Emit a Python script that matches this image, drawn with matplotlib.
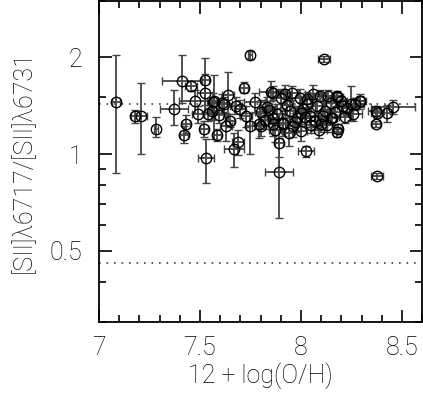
import numpy as np
import matplotlib
matplotlib.use("Agg")
import matplotlib.pyplot as plt
from matplotlib.ticker import FixedLocator, NullFormatter, MultipleLocator

# oxygen abundance, its error, [SII] ratio and ratio errors (lo, hi)
oh = [7.085, 7.18, 7.21, 7.28, 7.37, 7.41, 7.42, 7.43, 7.455, 7.475,
      7.49, 7.52, 7.525, 7.525, 7.53, 7.54, 7.56, 7.57, 7.585, 7.61,
      7.64, 7.65, 7.67, 7.69, 7.72, 7.75, 7.75, 7.79, 7.85, 7.86,
      7.89, 7.89, 7.91, 8.025, 8.114, 8.15, 8.18, 8.18, 8.25, 8.29,
      8.37, 8.376, 8.376, 8.426, 8.455,
      7.86, 7.90, 7.92, 7.955, 7.995, 8.03, 8.06, 8.095, 8.135, 8.18,
      8.20, 8.23, 8.27, 8.29, 8.37, 8.185, 8.155, 7.91, 7.86, 7.945,
      8.01, 8.08, 8.12, 8.045, 7.98,
      7.565, 7.62, 7.68, 7.77, 7.595, 7.70, 7.73, 7.80, 7.83, 7.82,
      7.80, 7.87, 7.96, 8.00, 8.05, 8.09, 8.13, 8.22, 8.26, 7.94,
      8.07, 8.03, 7.93, 8.15, 8.11, 7.63,
      7.88, 7.97, 8.02, 8.10, 8.17, 8.21, 7.84, 8.00]
oh_err = [0.02, 0.02, 0.03, 0.01, 0.07, 0.10, 0.02, 0.02, 0.03, 0.08,
          0.03, 0.02, 0.02, 0.04, 0.04, 0.02, 0.02, 0.02, 0.02, 0.03,
          0.03, 0.02, 0.05, 0.03, 0.02, 0.01, 0.02, 0.02, 0.06, 0.02,
          0.02, 0.07, 0.02, 0.04, 0.03, 0.03, 0.02, 0.03, 0.03, 0.03,
          0.02, 0.03, 0.03, 0.02, 0.11,
          0.03, 0.04, 0.03, 0.03, 0.05, 0.03, 0.04, 0.03, 0.03, 0.02,
          0.03, 0.03, 0.04, 0.02, 0.04, 0.02, 0.02, 0.03, 0.03, 0.05,
          0.04, 0.03, 0.05, 0.04, 0.06,
          0.03, 0.04, 0.03, 0.05, 0.02, 0.03, 0.03, 0.03, 0.04, 0.03,
          0.04, 0.03, 0.04, 0.03, 0.03, 0.04, 0.03, 0.03, 0.04, 0.02,
          0.05, 0.04, 0.03, 0.04, 0.03, 0.03,
          0.04, 0.03, 0.05, 0.03, 0.04, 0.03, 0.03, 0.04]
ratio = [1.45, 1.31, 1.31, 1.20, 1.38, 1.69, 1.15, 1.24, 1.63, 1.46,
         1.33, 1.20, 1.70, 1.55, 0.97, 1.33, 1.36, 1.46, 1.15, 1.44,
         1.53, 1.27, 1.04, 1.09, 1.61, 2.04, 1.22, 1.24, 1.56, 1.24,
         1.08, 0.88, 1.24, 1.02, 1.98, 1.29, 1.17, 1.50, 1.43, 1.46,
         1.24, 1.34, 0.855, 1.34, 1.40,
         1.55, 1.49, 1.54, 1.55, 1.49, 1.48, 1.54, 1.52, 1.52, 1.52,
         1.46, 1.39, 1.43, 1.46, 1.36, 1.20, 1.29, 1.25, 1.29, 1.36,
         1.38, 1.41, 1.36, 1.31, 1.29,
         1.45, 1.43, 1.41, 1.45, 1.32, 1.38, 1.31, 1.35, 1.40, 1.28,
         1.22, 1.19, 1.22, 1.18, 1.23, 1.19, 1.23, 1.30, 1.33, 1.16,
         1.27, 1.43, 1.42, 1.44, 1.31, 1.22,
         1.33, 1.26, 1.30, 1.24, 1.35, 1.41, 1.37, 1.34]
ratio_lo = [0.58, 0.06, 0.31, 0.07, 0.15, 0.25, 0.07, 0.08, 0.06, 0.12,
            0.08, 0.07, 0.28, 0.20, 0.16, 0.06, 0.08, 0.35, 0.05, 0.10,
            0.25, 0.06, 0.13, 0.10, 0.06, 0.06, 0.22, 0.12, 0.10, 0.10,
            0.10, 0.25, 0.10, 0.04, 0.04, 0.05, 0.04, 0.05, 0.15, 0.06,
            0.03, 0.05, 0.02, 0.08, 0.07,
            0.08, 0.10, 0.12, 0.08, 0.10, 0.08, 0.10, 0.06, 0.06, 0.05,
            0.06, 0.07, 0.06, 0.08, 0.05, 0.04, 0.06, 0.08, 0.10, 0.10,
            0.08, 0.07, 0.08, 0.10, 0.12,
            0.10, 0.08, 0.08, 0.10, 0.07, 0.09, 0.10, 0.12, 0.10, 0.08,
            0.08, 0.10, 0.09, 0.08, 0.07, 0.07, 0.06, 0.05, 0.06, 0.10,
            0.08, 0.09, 0.10, 0.06, 0.07, 0.12,
            0.10, 0.08, 0.09, 0.07, 0.06, 0.07, 0.09, 0.10]
ratio_hi = [0.59, 0.06, 0.35, 0.10, 0.20, 0.35, 0.07, 0.08, 0.06, 0.12,
            0.08, 0.07, 0.29, 0.22, 0.14, 0.06, 0.08, 0.30, 0.05, 0.10,
            0.27, 0.06, 0.12, 0.10, 0.06, 0.06, 0.12, 0.10, 0.13, 0.10,
            0.12, 0.24, 0.10, 0.04, 0.04, 0.05, 0.04, 0.05, 0.20, 0.06,
            0.03, 0.05, 0.02, 0.08, 0.07,
            0.08, 0.10, 0.10, 0.08, 0.10, 0.08, 0.10, 0.06, 0.06, 0.05,
            0.06, 0.07, 0.06, 0.08, 0.05, 0.04, 0.06, 0.08, 0.10, 0.10,
            0.08, 0.07, 0.08, 0.10, 0.12,
            0.10, 0.08, 0.10, 0.10, 0.07, 0.09, 0.10, 0.12, 0.10, 0.08,
            0.08, 0.10, 0.09, 0.08, 0.07, 0.07, 0.06, 0.05, 0.06, 0.10,
            0.08, 0.09, 0.10, 0.06, 0.07, 0.12,
            0.10, 0.08, 0.09, 0.07, 0.06, 0.07, 0.09, 0.10]

# low / high density limits
low_dens = 1.43
high_dens = 0.457

plt.rcParams['font.family'] = ['Roboto', 'DejaVu Sans']
plt.rcParams['font.weight'] = 'light'
plt.rcParams['axes.labelweight'] = 'light'

fig = plt.figure(figsize=(4.23, 3.95), dpi=100)
ax = fig.add_axes([0.234, 0.185, 0.764, 0.813])

ax.errorbar(oh, ratio, xerr=oh_err, yerr=[ratio_lo, ratio_hi], fmt='o',
            ms=7.5, mfc='none', mec='black', mew=1.0,
            ecolor='#444444', elinewidth=1.3, capsize=3, capthick=1.3)
ax.axhline(low_dens, color='#444444', ls=(0, (1, 3.5)), lw=1.2)
ax.axhline(high_dens, color='#444444', ls=(0, (1, 3.5)), lw=1.2)

ax.set_yscale('log')
ax.set_xlim(7.0, 8.6)
ax.set_ylim(0.3, 3.0)

ax.yaxis.set_major_locator(FixedLocator([0.5, 1, 2]))
ax.set_yticklabels(['0.5', '1', '2'])
ax.yaxis.set_minor_locator(FixedLocator([0.3, 0.4, 0.6, 0.7, 0.8, 0.9, 1.5, 3]))
ax.yaxis.set_minor_formatter(NullFormatter())
ax.xaxis.set_major_locator(FixedLocator([7, 7.5, 8, 8.5]))
ax.set_xticklabels(['7', '7.5', '8', '8.5'])
ax.xaxis.set_minor_locator(MultipleLocator(0.1))

ax.tick_params(which='both', direction='in', top=True, right=True,
               labelsize=18, colors='black', width=1.2)
ax.tick_params(which='major', length=9, pad=12)
ax.tick_params(which='minor', length=5)
ax.tick_params(axis='x', which='major', pad=10)
for s in ax.spines.values():
    s.set_linewidth(1.3)

ax.set_xlabel('12 + log(O/H)', fontsize=18, fontweight='light', labelpad=2)
ax.set_ylabel('[SII]λ6717/[SII]λ6731', fontsize=18, fontweight='light',
              labelpad=10)

fig.savefig('out.png', dpi=100)
